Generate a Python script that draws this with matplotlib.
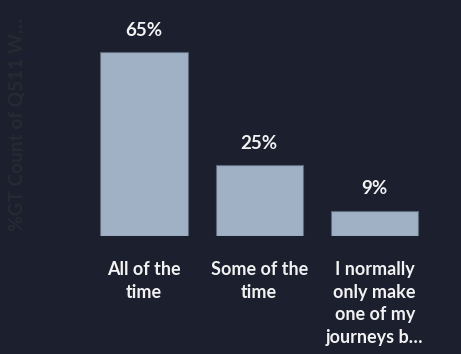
import matplotlib
matplotlib.use("Agg")
import matplotlib.pyplot as plt

categories = ["All of the\ntime", "Some of the\ntime", "I normally\nonly make\none of my\njourneys b…"]
values = [65, 25, 9]
value_labels = ["65%", "25%", "9%"]
y_title = "%GT Count of Q511 W…"

BG = "#1b1f2e"
BAR = "#a0b1c5"
EDGE = "#5d6878"
TXT = "#f2f2f2"

plt.rcParams['font.family'] = ['Lato', 'DejaVu Sans']

fig = plt.figure(figsize=(4.61, 3.54), dpi=100, facecolor=BG)
ax = fig.add_axes([86.2/461, 118/354, 346.2/461, 226/354])
ax.set_facecolor(BG)

x = list(range(len(categories)))
bars = ax.bar(x, values, width=0.758, color=BAR, edgecolor=EDGE, linewidth=0.8)
ax.set_xlim(-0.5, 2.5)
ax.set_ylim(0, 80)

for xi, v, lab in zip(x, values, value_labels):
    ax.annotate(lab, (xi, v), xytext=(0, 22*0.72), textcoords="offset points",
                ha="center", va="center", color=TXT, fontsize=13.5, fontweight="bold")

ax.set_xticks(x)
ax.set_xticklabels(categories, color=TXT, fontsize=13, fontweight="bold", linespacing=1.4)
ax.tick_params(axis="x", length=0, pad=18)
ax.set_yticks([])
for s in ax.spines.values():
    s.set_visible(False)

fig.text(17/461, 1 - 125/354, y_title, rotation=90, ha="center", va="center",
         color="#272b31", fontsize=13.7, fontweight="bold")

fig.savefig("out.png", dpi=100, facecolor=BG)
